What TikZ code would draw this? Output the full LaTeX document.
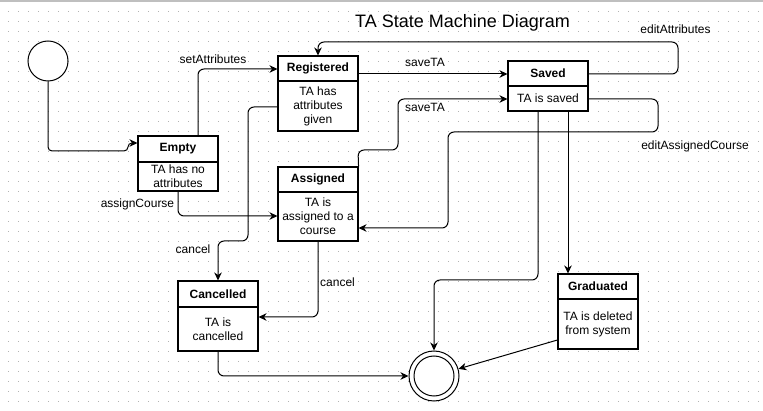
\documentclass[tikz,border=0pt]{standalone}
\usepackage{fontspec}
\setmainfont{Liberation Sans}
\usetikzlibrary{arrows.meta,calc}
\begin{document}
\begin{tikzpicture}[x=1pt,y=-1pt,
  stbox/.style={draw,line width=1.1pt,fill=white,minimum width=80pt,inner sep=0pt,rectangle},
  hdr/.style={font=\fontsize{12}{14}\selectfont\bfseries,inner sep=0pt},
  bodyt/.style={font=\fontsize{12}{14}\selectfont,align=center,inner sep=0pt},
  lbl/.style={font=\fontsize{12}{14}\selectfont,inner sep=0pt,anchor=base},
  arr/.style={line width=1pt,rounded corners=6pt,-{Stealth[length=8pt,width=7.5pt,inset=2.5pt]}},
  divl/.style={line width=1.1pt}]
\useasboundingbox (0,0) rectangle (763,411);
\fill[white] (0,0) rectangle (763,411);
\foreach \i in {0,...,75}{\foreach \j in {0,...,40}{\fill[black!30] (8+10*\i,1+10*\j) rectangle ++(1,1);}}
\fill[black!25] (0,0) rectangle (763,2);

% title
\node[font=\fontsize{18}{20}\selectfont,anchor=base,inner sep=0pt] (title) at (462.5,28) {TA State Machine Diagram};

% initial and final
\node[circle,draw,line width=1pt,fill=white,minimum size=40pt,inner sep=0pt] (init) at (48,61) {};
\node[circle,draw,line width=1pt,fill=white,minimum size=50pt,inner sep=0pt] (final) at (434,376) {};
\node[circle,draw,line width=1pt,minimum size=40pt,inner sep=0pt] (finalin) at (434,376) {};

% Empty
\node[stbox,minimum height=55pt] (empty) at (178,163.5) {};
\draw[divl] (empty.west |- 0,162) -- (empty.east |- 0,162);
\node[hdr] (emptyh) at (178,149) {Empty};
\node[bodyt] (emptyb) at (178,176.5) {TA has no\\attributes};

% Registered
\node[stbox,minimum height=75pt] (reg) at (318,93.5) {};
\draw[divl] (reg.west |- 0,81) -- (reg.east |- 0,81);
\node[hdr] (regh) at (318,68.5) {Registered};
\node[bodyt] (regb) at (318,106) {TA has\\attributes\\given};

% Saved
\node[stbox,minimum height=50pt] (saved) at (548,86) {};
\draw[divl] (saved.west |- 0,86) -- (saved.east |- 0,86);
\node[hdr] (savedh) at (548,73.5) {Saved};
\node[bodyt] (savedb) at (548,98.5) {TA is saved};

% Assigned
\node[stbox,minimum height=74pt] (assigned) at (318,204) {};
\draw[divl] (assigned.west |- 0,192) -- (assigned.east |- 0,192);
\node[hdr] (assignedh) at (318,179.5) {Assigned};
\node[bodyt] (assignedb) at (318,216.5) {TA is\\assigned to a\\course};

% Cancelled
\node[stbox,minimum height=70pt] (cancelled) at (218,316) {};
\draw[divl] (cancelled.west |- 0,307) -- (cancelled.east |- 0,307);
\node[hdr] (cancelledh) at (218,294) {Cancelled};
\node[bodyt] (cancelledb) at (218,329) {TA is\\cancelled};

% Graduated
\node[stbox,minimum height=75pt] (grad) at (598,311.5) {};
\draw[divl] (grad.west |- 0,299) -- (grad.east |- 0,299);
\node[hdr] (gradh) at (598,286.5) {Graduated};
\node[bodyt] (gradb) at (598,324) {TA is deleted\\from system};

% edges
\draw[arr,rounded corners=4pt] (init.south) -- (48,151) -- (128,151) -- (128,143) -- (empty.west |- 0,143);
\draw[arr] (empty.north -| 198,0) -- (198,69) -- (reg.west |- 0,69);
\draw[arr] (reg.east |- 0,74) -- (saved.west |- 0,74);
\draw[arr] (saved.east |- 0,74) -- (678,74) -- (678,42) -- (318,42) -- (reg.north);
\draw[arr] (assigned.north east) -- (358,150) -- (398,150) -- (398,99) -- (saved.west |- 0,99);
\draw[arr] (saved.east |- 0,99) -- (658,99) -- (658,132) -- (448,132) -- (448,228) -- (assigned.east |- 0,228);
\draw[arr] (empty.south) -- (178,216) -- (assigned.west |- 0,216);
\draw[arr] (reg.west |- 0,107) -- (248,107) -- (248,241) -- (218,241) -- (cancelled.north);
\draw[arr] (assigned.south) -- (318,317) -- (cancelled.east |- 0,317);
\draw[arr] (cancelled.south) -- (218,376) -- (final.west);
\draw[arr] (saved.south -| 538,0) -- (538,280) -- (434,280) -- (final.north);
\draw[arr] (saved.south -| 568,0) -- (grad.north -| 568,0);
\draw[arr] (grad.west |- 0,340) -- (final);

% labels
\node[lbl] (l1) at (213,64) {setAttributes};
\node[lbl] (l2) at (425,67) {saveTA};
\node[lbl] (l3) at (425,112) {saveTA};
\node[lbl] (l4) at (675.5,34) {editAttributes};
\node[lbl] (l5) at (695,150) {editAssignedCourse};
\node[lbl] (l6) at (137.5,208) {assignCourse};
\node[lbl] (l7) at (193,254) {cancel};
\node[lbl] (l8) at (337.5,287) {cancel};
\end{tikzpicture}
\end{document}
